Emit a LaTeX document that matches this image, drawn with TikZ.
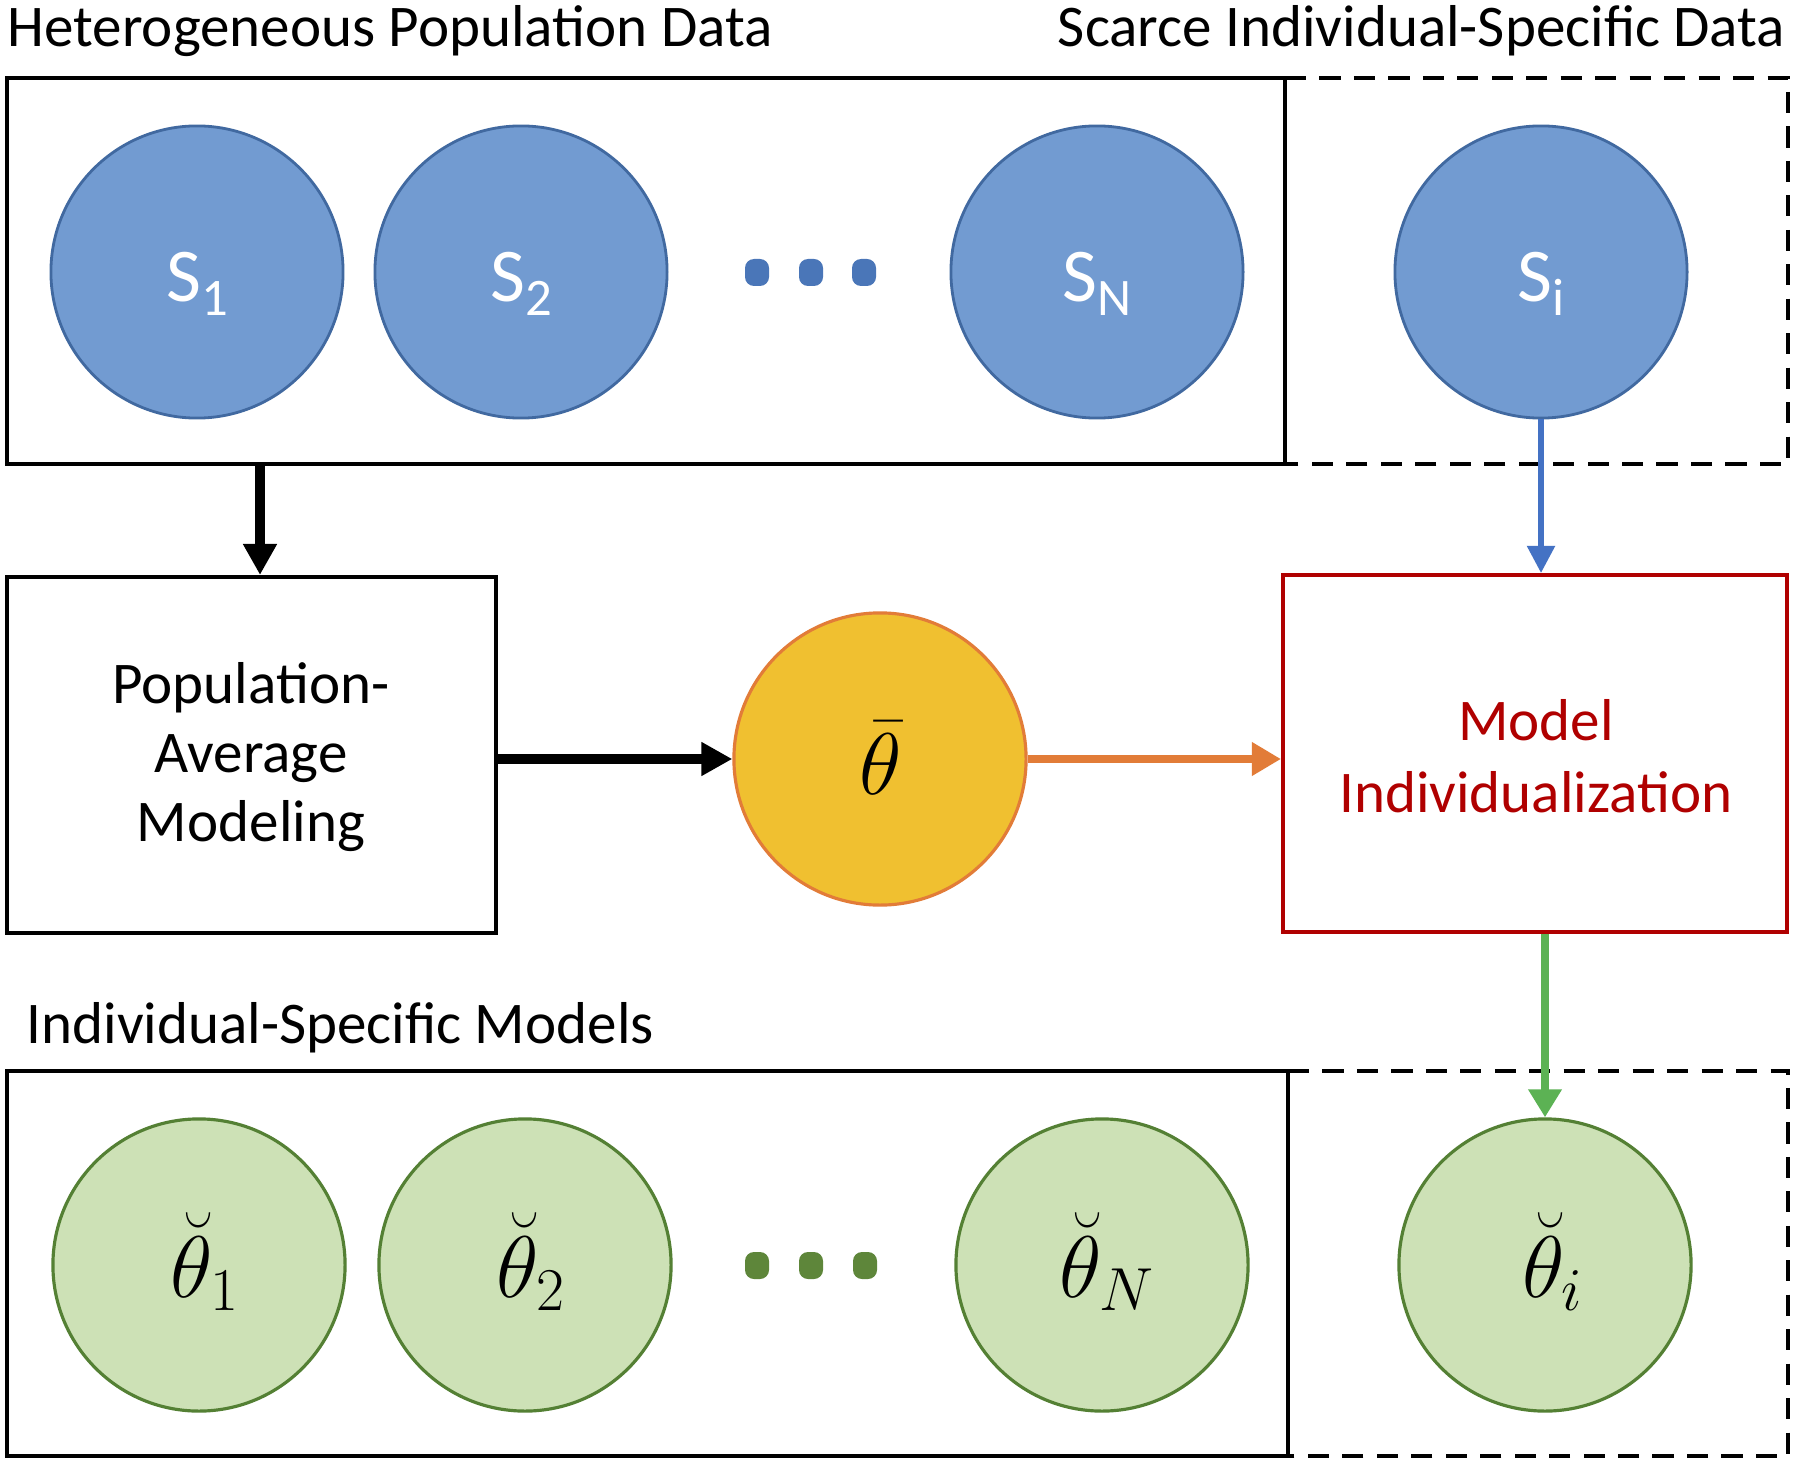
\documentclass[tikz,border=0pt]{standalone}
\usepackage{fontspec}
\setmainfont{Carlito}
\usetikzlibrary{arrows.meta,calc}
\definecolor{cblue}{RGB}{114,155,209}
\definecolor{cbluedk}{RGB}{65,105,160}
\definecolor{cdotblue}{RGB}{74,118,184}
\definecolor{carrblue}{RGB}{68,114,196}
\definecolor{cgreen}{RGB}{205,225,182}
\definecolor{cgreendk}{RGB}{84,128,52}
\definecolor{cdotgreen}{RGB}{94,134,58}
\definecolor{carrgreen}{RGB}{92,178,84}
\definecolor{cgold}{RGB}{240,192,48}
\definecolor{corange}{RGB}{226,124,56}
\definecolor{cred}{RGB}{176,0,0}
\newcommand\Slabel[1]{{\fontsize{21.6}{24}\selectfont S}\raisebox{-3.7pt}{\fontsize{15}{16}\selectfont #1}}
\newcommand\Thlabel[1]{{\fontsize{23}{26}\selectfont$\breve{\theta}_{#1}$}}
\begin{document}
\begin{tikzpicture}[x=0.01cm,y=-0.01cm,
  txt/.style={font=\fontsize{16.8}{20}\selectfont, inner sep=0},
  framebox/.style={draw, line width=1.1pt, inner sep=0},
  dashframe/.style={draw, line width=1.15pt, dash pattern=on 6pt off 3.8pt},
  bluecirc/.style={circle, draw=cbluedk, fill=cblue, line width=0.8pt, minimum size=2.92cm, inner sep=0},
  greencirc/.style={circle, draw=cgreendk, fill=cgreen, line width=0.9pt, minimum size=2.92cm, inner sep=0},
  goldcirc/.style={circle, draw=corange, fill=cgold, line width=0.9pt, minimum size=2.92cm, inner sep=0},
  slab/.style={anchor=base, inner sep=0, text=white},
  thlab/.style={anchor=base, inner sep=0},
  blackarr/.style={line width=2.6pt, -{Triangle[length=0.31cm,width=0.32cm]}},
  orangearr/.style={draw=corange, line width=2pt, -{Triangle[length=0.29cm,width=0.32cm]}},
  bluearr/.style={draw=carrblue, line width=1.5pt, -{Triangle[length=0.27cm,width=0.27cm]}},
  greenarr/.style={draw=carrgreen, line width=2.2pt, -{Triangle[length=0.28cm,width=0.32cm]}},
]
\useasboundingbox[fill=white] (0,0) rectangle (1800,1464);

% titles
\node[txt, anchor=base west] (t1) at (7,47) {Heterogeneous Population Data};
\node[txt, anchor=base east] (t2) at (1786,47) {Scarce Individual-Specific Data};
\node[txt, anchor=base west] (t3) at (26,1043) {Individual-Specific Models};

% top frames
\draw[dashframe] (1285,78) -- (1788,78) -- (1788,464) -- (1285,464);
\node[framebox, minimum width=12.78cm, minimum height=3.86cm] (topbox) at (646,271) {};

% top circles
\node[bluecirc] (s1) at (197,272) {};
\node[bluecirc] (s2) at (521,272) {};
\node[bluecirc] (sN) at (1097,272) {};
\node[bluecirc] (si) at (1541,272) {};
\node[slab] at ($(s1)+(0,30)$) {\Slabel{1}};
\node[slab] at ($(s2)+(0,30)$) {\Slabel{2}};
\node[slab] at ($(sN)+(0,30)$) {\Slabel{N}};
\node[slab] at ($(si)+(0,30)$) {\Slabel{i}};
\foreach \x in {757,811,864}{
  \fill[cdotblue, rounded corners=0.09cm] (\x-12,259) rectangle (\x+12,286);
}

% middle row
\node[framebox, minimum width=4.89cm, minimum height=3.56cm] (popbox) at (251.5,755) {};
\node[txt, align=center, font=\fontsize{16.8}{19.6}\selectfont] (poptext) at (251,757) {Population-\\Average\\Modeling};
\node[goldcirc] (thbar) at (880,759) {};
\node[thlab] at ($(thbar)+(1,35)$) {\fontsize{24}{28}\selectfont$\bar{\theta}$};
\node[framebox, draw=cred, minimum width=5.04cm, minimum height=3.57cm] (modelbox) at (1535,753.5) {};
\node[txt, align=center, text=cred, font=\fontsize{16.8}{20.5}\selectfont] (modeltext) at (1536,756) {Model\\Individualization};

% bottom frames
\draw[dashframe] (1288,1071) -- (1788,1071) -- (1788,1456) -- (1288,1456);
\node[framebox, minimum width=12.81cm, minimum height=3.85cm] (botbox) at (647.5,1263.5) {};

% bottom circles
\node[greencirc] (th1) at (199,1265) {};
\node[greencirc] (th2) at (525,1265) {};
\node[greencirc] (thN) at (1102,1265) {};
\node[greencirc] (thi) at (1545,1265) {};
\node[thlab] at ($(th1)+(6,32)$) {\Thlabel{1}};
\node[thlab] at ($(th2)+(6,32)$) {\Thlabel{2}};
\node[thlab] at ($(thN)+(5,32)$) {\Thlabel{N}};
\node[thlab] at ($(thi)+(8,32)$) {\Thlabel{i}};
\foreach \x in {757,811,865}{
  \fill[cdotgreen, rounded corners=0.09cm] (\x-12,1252) rectangle (\x+12,1279);
}

% connectors
\coordinate (downstart) at (260,464);
\draw[blackarr] (downstart) -- (downstart |- popbox.north);
\draw[blackarr] (popbox.east |- thbar) -- (thbar.west);
\draw[orangearr] (thbar.east) -- (modelbox.west |- thbar);
\draw[bluearr] (si.south) -- (si |- modelbox.north);
\draw[greenarr] (thi |- modelbox.south) -- (thi.north);
\end{tikzpicture}
\end{document}
